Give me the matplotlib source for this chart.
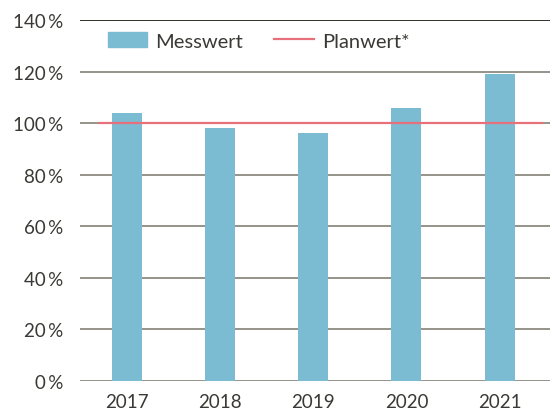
import matplotlib.pyplot as plt
from matplotlib.lines import Line2D
from matplotlib.patches import Patch

years = ["2017", "2018", "2019", "2020", "2021"]
messwert = [104, 98, 96, 106, 119]
planwert = 100
yticks = [0, 20, 40, 60, 80, 100, 120, 140]

plt.rcParams["font.family"] = ["Lato", "DejaVu Sans"]
text_col = "#3a3935"

fig = plt.figure(figsize=(5.52, 4.10), dpi=100)
ax = fig.add_axes([80 / 552, 28 / 410, 470 / 552, 361 / 410])

x = range(len(years))
ax.bar(x, messwert, width=0.32, color="#7bbcd3", zorder=2)
ax.hlines(planwert, -0.31, 4.46, color="#e8707a", lw=1.6, zorder=3)

ax.set_xlim(-0.5, 4.54)
ax.set_ylim(0, 140)
ax.set_yticks(yticks)
ax.set_yticklabels([f"{v}\u2009%" for v in yticks])
ax.set_xticks(list(x))
ax.set_xticklabels(years)
ax.tick_params(length=0, labelsize=13.5, colors=text_col)
ax.tick_params(axis="y", pad=12)
ax.tick_params(axis="x", pad=9)

for v in yticks:
    ax.axhline(v, color="#222018" if v == 140 else "#8e8b80", lw=1.3, zorder=1)

for s in ax.spines.values():
    s.set_visible(False)

handles = [Patch(color="#7bbcd3"), Line2D([], [], color="#e8707a", lw=1.6)]
ax.legend(handles, ["Messwert", "Planwert*"], loc="center left",
          bbox_to_anchor=(0.06, 0.942), ncol=2, frameon=False, fontsize=14.5,
          handlelength=1.95, handleheight=0.8, handletextpad=0.4,
          columnspacing=1.55, borderpad=0, borderaxespad=0,
          labelcolor=text_col)

fig.savefig("out.png", dpi=100)
